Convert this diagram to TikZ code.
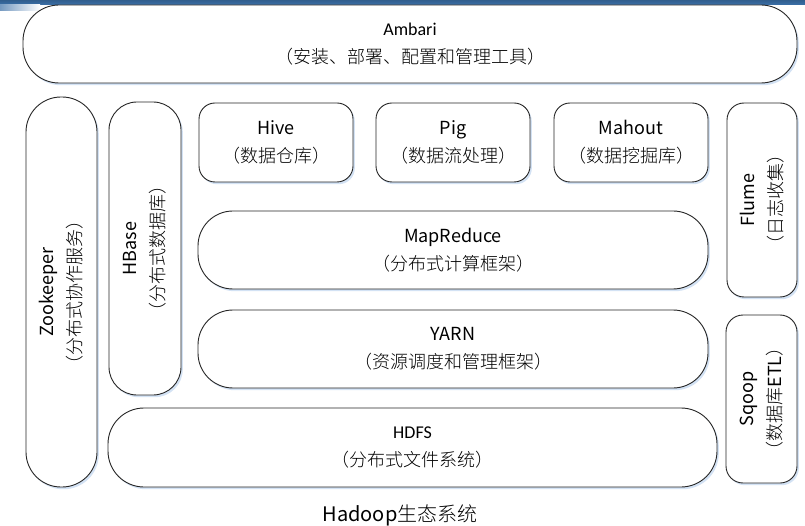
\documentclass[tikz,border=0pt]{standalone}
\usepackage{fontspec}
\IfFontExistsTF{Noto Sans CJK SC Light}
  {\setmainfont{Noto Sans CJK SC Light}}
  {\setmainfont{Noto Sans CJK SC}}
\newfontfamily\calfont{Carlito}
\newfontfamily\latfont{Noto Sans CJK SC}
\newcommand{\lpar}{\kern5pt（}
\newcommand{\rpar}{）\kern5pt}
\begin{document}
\begin{tikzpicture}[x=1pt,y=-1pt,
  box/.style={draw=black!85, line width=0.9pt, fill=white, inner sep=0pt, align=center,
    font=\fontsize{18}{28}\selectfont,
    preaction={fill=shadowblue, draw=none, transform canvas={shift={(1.8pt,-2.2pt)}}}},
  vtext/.style={rotate=90, align=center, inner sep=0pt, font=\fontsize{18}{28}\selectfont}
]
\definecolor{shadowblue}{HTML}{D3E2F4}
\definecolor{barblue}{HTML}{3A6EA6}
\useasboundingbox (0,0) rectangle (805,526);
\fill[white] (0,0) rectangle (805,526);
% top bar
\shade[top color=barblue!85!black, bottom color=barblue] (0,0) rectangle (805,4.5);
\shade[left color=barblue!70, right color=white] (0,4.5) rectangle (40,11);

% Ambari
\node[box, rounded corners=36, minimum width=774, minimum height=78] (ambari) at (410,44)
  {{\calfont Ambari}\\\lpar 安装、部署、配置和管理工具\rpar};
% Zookeeper
\node[box, rounded corners=35, minimum width=71, minimum height=390] (zk) at (61.5,292) {};
\node[vtext] (zkt) at (zk.center) {{\latfont Zookeeper}\\\lpar 分布式协作服务\rpar};
% HBase
\node[box, rounded corners=28, minimum width=72, minimum height=293] (hbase) at (145,248.5) {};
\node[vtext] (hbaset) at (hbase.center) {{\latfont HBase}\\\lpar 分布式数据库\rpar};
% Hive, Pig, Mahout
\node[box, rounded corners=16, minimum width=154, minimum height=79] (hive) at (276,142.5)
  {{\latfont Hive}\\\lpar 数据仓库\rpar};
\node[box, rounded corners=16, minimum width=154, minimum height=79] (pig) at (453,142.5)
  {{\latfont Pig}\\\lpar 数据流处理\rpar};
\node[box, rounded corners=16, minimum width=154, minimum height=79] (mahout) at (631,142.5)
  {{\latfont Mahout}\\\lpar 数据挖掘库\rpar};
% MapReduce
\node[box, rounded corners=35, minimum width=510, minimum height=78] (mr) at (453,250)
  {{\latfont MapReduce}\\\lpar 分布式计算框架\rpar};
% YARN
\node[box, rounded corners=35, minimum width=510, minimum height=78] (yarn) at (453,349)
  {{\latfont YARN}\\\lpar 资源调度和管理框架\rpar};
% HDFS
\node[box, rounded corners=36, minimum width=609, minimum height=79] (hdfs) at (412.5,447.5)
  {{\calfont HDFS}\\\lpar 分布式文件系统\rpar};
% Flume
\node[box, rounded corners=17, minimum width=70, minimum height=194] (flume) at (762,200) {};
\node[vtext] (flumet) at (flume.center) {{\latfont Flume}\\\lpar 日志收集\rpar};
% Sqoop
\node[box, rounded corners=17, minimum width=71, minimum height=168] (sqoop) at (761.5,399) {};
\node[vtext] (sqoopt) at (sqoop.center) {{\latfont Sqoop}\\\lpar 数据库{\latfont ETL}\rpar};
% caption
\node[font=\fontsize{20}{24}\selectfont, inner sep=0pt] (cap) at (400,515) {{\latfont Hadoop}生态系统};
\end{tikzpicture}
\end{document}
